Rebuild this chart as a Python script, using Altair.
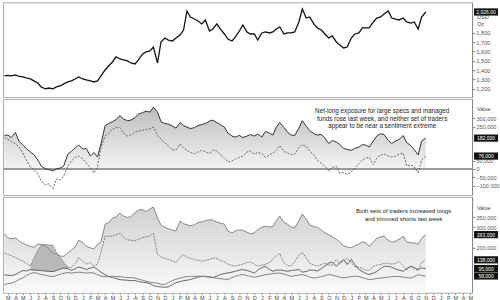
import altair as alt
import pandas as pd

# ---------------- data ----------------
price = [1338,1343,1338,1348,1332,1327,1316,1305,1284,1262,
         1219,1198,1208,1198,1219,1230,1252,1273,1284,1305,
         1327,1305,1295,1284,1273,1284,1338,1402,1445,1488,
         1542,1520,1510,1499,1477,1467,1510,1574,1596,1606,
         1649,1477,1703,1746,1724,1714,1746,1778,1832,2036,
         1972,1950,1929,1897,1940,1821,1843,1897,1843,1789,
         1735,1714,1757,1821,1886,1811,1789,1789,1724,1800,
         1811,1800,1811,1843,1864,1789,1800,1800,1811,1918,
         2058,1961,1972,1897,1854,1832,1789,1746,1768,1703,
         1671,1639,1649,1746,1789,1800,1854,1854,1854,1918,
         1961,1972,2004,2036,1961,1950,1940,1961,1918,1907,
         1918,1843,1972,2026]

# net-long positions, thousands of contracts
net_large_k = [198,200,185,215,165,141,121,100,85,53,
               18,0,-3,-12,0,6,18,88,103,126,
               141,118,121,76,97,71,147,256,268,279,
               291,315,294,285,288,303,324,332,341,335,
               365,335,279,268,265,253,241,274,256,247,
               238,244,256,262,268,282,288,274,262,247,
               212,194,188,198,185,194,203,194,206,188,
               221,212,200,247,274,244,218,200,197,241,
               285,253,226,209,200,203,182,150,168,159,
               144,121,115,110,121,129,144,141,129,165,
               194,208,203,168,150,165,174,197,156,138,
               115,82,165,182]
net_managed_k = [185,174,162,147,132,94,53,12,-3,-29,
                 -71,-94,-88,-116,-59,-65,-41,18,47,68,
                 76,59,35,6,-24,12,129,194,209,235,
                 244,244,212,194,200,218,224,228,232,237,
                 247,198,176,153,135,112,112,147,124,109,
                 97,90,100,110,100,91,112,106,85,65,
                 41,47,59,68,76,100,106,88,97,90,
                 68,82,94,110,138,103,94,85,88,126,
                 144,132,106,82,53,32,18,-12,9,15,
                 -26,-21,-32,-18,6,31,53,65,68,24,
                 65,82,88,76,71,76,88,94,18,24,
                 12,-24,53,76]

# gross longs / shorts, thousands of contracts
long_large_k = [267,248,242,247,232,220,212,205,200,215,
                215,207,192,173,167,157,155,173,185,202,
                235,225,205,197,192,215,225,315,322,345,
                350,370,355,348,352,372,385,387,377,390,
                400,345,310,300,292,285,282,330,317,312,
                307,312,322,327,332,337,335,325,320,315,
                280,272,282,287,285,275,267,272,287,300,
                305,300,305,332,355,323,315,300,297,332,
                365,340,312,302,300,285,272,262,252,240,
                227,207,202,198,207,217,227,222,207,225,
                245,252,255,235,225,230,240,255,227,223,
                222,215,245,263]
long_managed_k = [172,165,158,150,140,132,120,108,145,185,
                  210,215,212,210,175,152,125,102,100,120,
                  150,130,117,125,107,117,175,255,255,257,
                  262,270,250,237,235,232,240,248,252,257,
                  270,165,152,145,140,132,125,150,162,152,
                  145,140,135,132,135,140,147,145,135,127,
                  117,110,107,112,117,125,127,117,107,112,
                  115,125,140,157,170,122,110,107,130,160,
                  175,148,122,112,107,115,122,112,112,140,
                  120,132,145,125,105,101,95,87,87,105,
                  112,115,120,122,117,120,130,107,87,107,
                  92,85,125,138]
short_managed_k = [63,62,60,65,75,85,83,90,87,86,
                   85,82,81,80,85,92,97,95,85,95,
                   102,97,90,97,102,90,77,65,55,50,
                   45,40,38,37,35,35,30,27,25,20,
                   10,5,4,2,4,15,25,30,35,37,
                   40,47,52,56,55,52,50,57,65,70,
                   73,77,82,87,90,85,80,72,87,100,
                   105,90,82,87,87,85,81,85,87,90,
                   77,80,87,87,82,95,107,122,127,106,
                   125,140,115,140,115,90,80,71,65,72,
                   80,95,106,106,102,92,87,81,95,106,
                   100,90,98,95]
short_large_k = [15,20,22,30,40,48,60,70,75,70,
                 65,62,57,55,60,67,72,75,72,75,
                 77,75,72,75,72,65,57,55,55,57,
                 55,55,52,50,50,48,42,37,32,27,
                 25,22,17,15,25,35,42,47,52,55,
                 56,56,57,56,56,55,50,47,45,42,
                 40,50,57,62,65,60,56,52,55,60,
                 65,67,70,72,72,67,62,56,60,62,
                 65,60,52,48,50,55,60,65,62,57,
                 52,48,52,55,57,55,50,45,40,42,
                 46,47,50,52,55,56,55,52,50,48,
                 55,65,60,58]

price_ticks = [1200, 1300, 1400, 1500, 1600, 1700, 1800]
net_ticks = [-100000, -50000, 0, 50000, 250000, 300000]
gross_ticks = [200000, 300000, 350000]

note_mid = ["Net-long exposure for large specs and managed",
            "funds rose last week, and neither set of traders",
            "appear to be near a sentiment extreme"]
note_mid_val = [341000, 296000, 253000]
note_bot = ["Both sets of traders increased longs",
            "and trimmed shorts last week"]
note_bot_val = [381000, 340000]


def semi_monthly(year, month, day, n):
    out = []
    for _ in range(n):
        out.append(f"{year:04d}-{month:02d}-{day:02d}")
        if day == 1:
            day = 15
        else:
            day = 1
            month += 1
            if month > 12:
                month = 1
                year += 1
    return out


dates = semi_monthly(2019, 2, 15, len(price))

df = pd.DataFrame({
    "date": dates,
    "price": price,
    "net_large": [v * 1000 for v in net_large_k],
    "net_managed": [v * 1000 for v in net_managed_k],
    "long_large": [v * 1000 for v in long_large_k],
    "long_managed": [v * 1000 for v in long_managed_k],
    "short_managed": [v * 1000 for v in short_managed_k],
    "short_large": [v * 1000 for v in short_large_k],
})
last = df.tail(1)

W = 470
FONT = "Liberation Sans"
BOX = "M-1,-0.3L1,-0.3L1,0.3L-1,0.3Z"

xscale = alt.Scale(domain=[alt.DateTime(year=2019, month=2, date=9, utc=True),
                           alt.DateTime(year=2024, month=5, date=8, utc=True)])
x_none = alt.X("date:T", scale=xscale, axis=None)
x_bottom = alt.X("date:T", scale=xscale, axis=alt.Axis(
    orient="bottom", title=None,
    labelExpr="substring(timeFormat(datum.value, '%b'), 0, 1)",
    tickCount={"interval": "month", "step": 1},
    labelFontSize=5.5, labelColor="#444", labelFont=FONT,
    tickSize=2, tickColor="#999", domain=False, grid=False,
    labelPadding=1, labelOverlap=False, labelFlush=False))


def right_axis(values):
    return alt.Axis(orient="right", values=values, title=None,
                    labelExpr="format(datum.value, ',')",
                    labelFontSize=5.5, labelColor="#555", labelFont=FONT,
                    tickSize=3, tickColor="#888", domainColor="#888",
                    grid=False, labelPadding=1)


def grad(top, bottom):
    return alt.Gradient(gradient="linear",
                        stops=[alt.GradientStop(color=top, offset=0),
                               alt.GradientStop(color=bottom, offset=1)],
                        x1=1, x2=1, y1=0, y2=1)


one = pd.DataFrame({"a": [0]})


def make_panel(scale, axis):
    def Y(field):
        return alt.Y(field, scale=scale, axis=axis)

    def value_box(field, fmt=","):
        b = alt.Chart(last).mark_point(shape=BOX, size=576, filled=True,
                                       color="#111", opacity=1).encode(
            x=alt.value(W + 14), y=Y(f"{field}:Q"))
        t = alt.Chart(last).mark_text(color="white", fontSize=5, font=FONT).encode(
            x=alt.value(W + 14), y=Y(f"{field}:Q"),
            text=alt.Text(f"{field}:Q", format=fmt))
        return [b, t]
    return Y, value_box


def side_label(txt, py):
    return alt.Chart(one).mark_text(text=txt, fontSize=5.5, font=FONT,
                                    color="#444", align="left").encode(
        x=alt.value(W + 5), y=alt.value(py))


# ---------------- top: price ----------------
ps = alt.Scale(domain=[1110, 2130], zero=False, nice=False)
Yp, box_p = make_panel(ps, right_axis(price_ticks))
top = alt.layer(
    alt.Chart(df).mark_line(color="#111", strokeWidth=1.3).encode(
        x=x_none, y=Yp("price:Q")),
    *box_p("price", ",.2f"),
    side_label("USD", 15), side_label("Oz", 22),
).properties(width=W, height=95)

# ---------------- middle: net long ----------------
ms = alt.Scale(domain=[-153000, 412000], zero=False, nice=False)
Ym, box_m = make_panel(ms, right_axis(net_ticks))
notes_mid = pd.DataFrame({"date": ["2023-05-07"] * 3, "v": note_mid_val, "t": note_mid})
zero_df = pd.DataFrame({"z": [0]})
mid = alt.layer(
    alt.Chart(df).mark_area(color=grad("#bcbcbc", "#f6f6f6")).encode(
        x=x_none, y=Ym("net_large:Q")),
    alt.Chart(zero_df).mark_rule(color="#9a9a9a", strokeWidth=2).encode(
        y=Ym("z:Q")),
    alt.Chart(df).mark_line(color="#555", strokeWidth=0.9, strokeDash=[2, 1.5]).encode(
        x=x_none, y=Ym("net_managed:Q")),
    alt.Chart(df).mark_line(color="#333", strokeWidth=1).encode(
        x=x_none, y=Ym("net_large:Q")),
    alt.Chart(notes_mid).mark_text(fontSize=6.3, font=FONT, color="#222").encode(
        x=x_none, y=Ym("v:Q"), text="t:N"),
    *box_m("net_large"),
    *box_m("net_managed"),
    side_label("Value", 10),
).properties(width=W, height=96)

# ---------------- bottom: longs & shorts ----------------
bs = alt.Scale(domain=[-25000, 450000], zero=False, nice=False)
Yb, box_b = make_panel(bs, right_axis(gross_ticks))
notes_bot = pd.DataFrame({"date": ["2023-08-03"] * 2, "v": note_bot_val, "t": note_bot})
tri = df.iloc[7:18]
bot = alt.layer(
    alt.Chart(df).mark_area(color=grad("#d0d0d0", "#fafafa")).encode(
        x=x_bottom, y=Yb("long_large:Q"), y2=alt.datum(-25000)),
    alt.Chart(tri).mark_area(color="#a8a8a8", opacity=0.75).encode(
        x=x_bottom, y=Yb("long_managed:Q"), y2="short_managed:Q"),
    alt.Chart(df).mark_line(color="#888", strokeWidth=1).encode(
        x=x_bottom, y=Yb("long_large:Q")),
    alt.Chart(df).mark_line(color="#777", strokeWidth=0.9, strokeDash=[2, 1]).encode(
        x=x_bottom, y=Yb("long_managed:Q")),
    alt.Chart(df).mark_line(color="#555", strokeWidth=0.9).encode(
        x=x_bottom, y=Yb("short_managed:Q")),
    alt.Chart(df).mark_line(color="#777", strokeWidth=0.9).encode(
        x=x_bottom, y=Yb("short_large:Q")),
    alt.Chart(notes_bot).mark_text(fontSize=6, font=FONT, color="#222").encode(
        x=x_bottom, y=Yb("v:Q"), text="t:N"),
    *box_b("long_large"),
    *box_b("long_managed"),
    *box_b("short_managed"),
    *box_b("short_large"),
    side_label("Value", 11),
).properties(width=W, height=96)

chart = alt.vconcat(top, mid, bot, spacing=0).properties(
    padding={"left": 1, "top": 1, "right": 0, "bottom": 0},
    background="white",
).configure_view(stroke="#aaa", strokeWidth=1)

chart.save("out.html", embed_options={"renderer": "svg", "actions": False})
